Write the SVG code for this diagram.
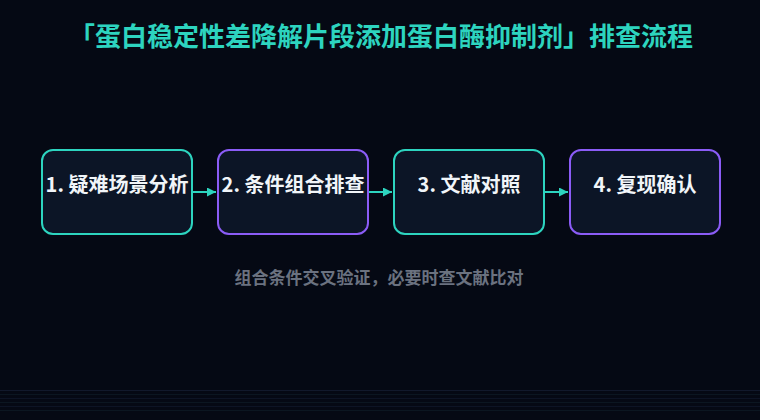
<svg xmlns="http://www.w3.org/2000/svg" width="760" height="420" viewBox="0 0 760 420">
<defs>
<style>
.bg{fill:#050914}
.node{fill:#0c1526;stroke-width:2}
.teal{stroke:#2dd4bf}
.purple{stroke:#8b5cf6}
.lbl{font-family:"Noto Sans CJK SC","Noto Sans",sans-serif;font-size:20px;font-weight:700;fill:#f1f5f9;text-anchor:middle}
.title{font-family:"Noto Sans CJK SC","Noto Sans",sans-serif;font-size:26px;font-weight:700;fill:#2dd4bf;text-anchor:middle}
.sub{font-family:"Noto Sans CJK SC","Noto Sans",sans-serif;font-size:17px;font-weight:700;fill:#6b7280;text-anchor:middle}
.edge{stroke:#2dd4bf;stroke-width:2;fill:none}
.scan{stroke-width:1}
</style>
<marker id="ah" viewBox="0 0 10 10" refX="10" refY="5" markerWidth="9" markerHeight="9" markerUnits="userSpaceOnUse" orient="auto">
<path d="M0,0 L10,5 L0,10 z" fill="#2dd4bf"/>
</marker>
</defs>
<rect class="bg" x="0" y="0" width="760" height="420"/>
<g id="scanlines">
<line class="scan" x1="0" y1="390.5" x2="760" y2="390.5" stroke="#1e2a44" stroke-opacity="0.5"/>
<line class="scan" x1="0" y1="394.5" x2="760" y2="394.5" stroke="#16303a" stroke-opacity="0.35"/>
<line class="scan" x1="0" y1="398.5" x2="760" y2="398.5" stroke="#1e2a44" stroke-opacity="0.35"/>
<line class="scan" x1="0" y1="402.5" x2="760" y2="402.5" stroke="#16303a" stroke-opacity="0.35"/>
<line class="scan" x1="0" y1="406.5" x2="760" y2="406.5" stroke="#1e2a44" stroke-opacity="0.35"/>
<line class="scan" x1="0" y1="410.5" x2="760" y2="410.5" stroke="#16303a" stroke-opacity="0.35"/>
</g>
<text class="title" x="381" y="46">「蛋白稳定性差降解片段添加蛋白酶抑制剂」排查流程</text>
<g id="connectors">
<line class="edge" x1="192" y1="192" x2="216" y2="192" marker-end="url(#ah)"/>
<line class="edge" x1="368" y1="192" x2="392" y2="192" marker-end="url(#ah)"/>
<line class="edge" x1="544" y1="192" x2="568" y2="192" marker-end="url(#ah)"/>
</g>
<g id="n1"><rect class="node teal" x="42" y="150" width="150" height="84" rx="11"/><text class="lbl" x="117" y="192">1. 疑难场景分析</text></g>
<g id="n2"><rect class="node purple" x="218" y="150" width="150" height="84" rx="11"/><text class="lbl" x="293" y="192">2. 条件组合排查</text></g>
<g id="n3"><rect class="node teal" x="394" y="150" width="150" height="84" rx="11"/><text class="lbl" x="469" y="192">3. 文献对照</text></g>
<g id="n4"><rect class="node purple" x="570" y="150" width="150" height="84" rx="11"/><text class="lbl" x="645" y="192">4. 复现确认</text></g>
<text class="sub" x="379" y="284">组合条件交叉验证，必要时查文献比对</text>
</svg>
